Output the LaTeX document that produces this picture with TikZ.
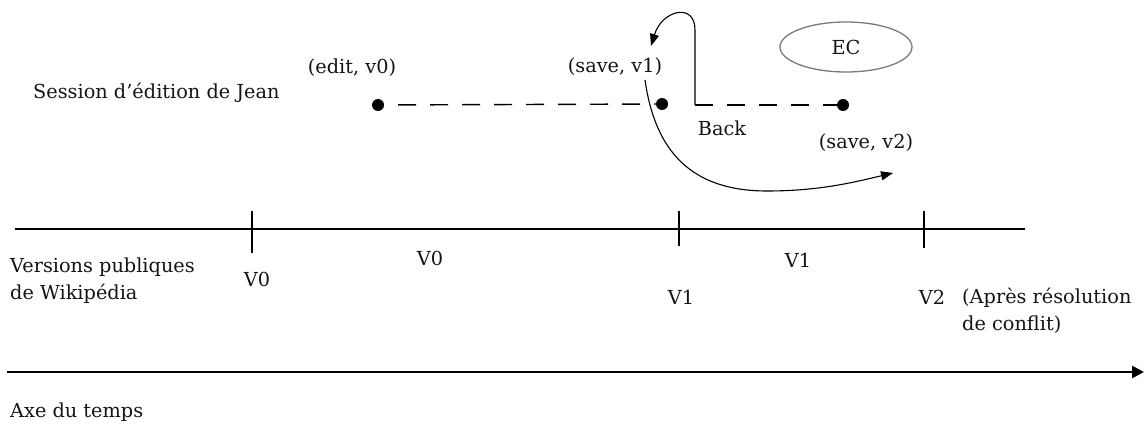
\documentclass[tikz,border=0pt]{standalone}
\usepackage{fontspec}
\setmainfont{DejaVu Serif}
\usepackage{tikz}
\usetikzlibrary{arrows.meta,shapes.geometric}
\definecolor{cTxt}{HTML}{141414}
\definecolor{cEC}{HTML}{7A7A7A}
\tikzset{
  lbl/.style={font=\fontsize{19.3}{27}\selectfont, text=cTxt, inner sep=0pt},
  pt/.style={circle, fill=black, inner sep=0pt, minimum size=12pt},
  dashln/.style={line width=1.4pt, dash pattern=on 18pt off 14pt, dash phase=18pt},
  axisln/.style={line width=2.8pt},
  tickln/.style={line width=2pt},
  arr/.style={line width=1.1pt, -{Triangle[length=12pt,width=9pt]}},
  ecbox/.style={ellipse, draw=cEC, line width=1.3pt, minimum width=132pt, minimum height=50pt, inner sep=0pt},
}

\begin{document}
\begin{tikzpicture}[x=1pt,y=-1pt]
\useasboundingbox (0,0) rectangle (1146,425);
% session de Jean
\node[lbl, anchor=west] (sess) at (33,93) {Session d'édition de Jean};
\node[pt] (edit) at (378,105) {};
\node[pt] (save1) at (662,104) {};
\node[pt] (save2) at (843,105) {};
\node[lbl] (ledit) at (352,68) {(edit, v0)};
\node[lbl] (lsave1) at (615,67) {(save, v1)};
\node[lbl] (lsave2) at (866,143) {(save, v2)};
\node[lbl] (lback) at (722,128) {Back};
\node[ecbox, lbl] (ec) at (846,47) {EC};
\coordinate (corner) at (695,105);
\coordinate (up) at (695,30);
\coordinate (backtip) at (651,46);
\coordinate (cstart) at (645,80);
\coordinate (cbot) at (767,191);
\coordinate (ctip) at (893,173);
\draw[dashln] (edit) -- (save1);
\draw[dashln, dash phase=0pt] (corner) -- (save2);
\draw[arr] (corner) -- (up) .. controls (695,2) and (662,10) .. (backtip);
\draw[arr] (cstart) .. controls (655,150) and (690,191) .. (cbot)
  .. controls (820,191) and (855,182) .. (ctip);
% versions publiques
\coordinate (tl) at (15,229);
\coordinate (tr) at (1025,229);
\draw[axisln] (tl) -- (tr);
\foreach \x/\b in {252/253, 679/246, 924/248}{
  \draw[tickln] (\x,211) -- (\x,\b);
}
\node[lbl, anchor=north west, align=left] (vers) at (10,258) {Versions publiques\\de Wikipédia};
\node[lbl] (v0) at (257,279) {V0};
\node[lbl] (v0m) at (430,258) {V0};
\node[lbl] (v1) at (681,297) {V1};
\node[lbl] (v1m) at (798,260) {V1};
\node[lbl] (v2) at (932,297) {V2};
\node[lbl, anchor=north west, align=left] (apres) at (962,288) {(Après résolution\\de conflit)};
% axe du temps
\coordinate (ta) at (7,372);
\coordinate (tb) at (1144,372);
\draw[axisln, -{Triangle[length=12pt,width=12pt]}] (ta) -- (tb);
\node[lbl, anchor=west] (axe) at (10,412) {Axe du temps};
\end{tikzpicture}
\end{document}
